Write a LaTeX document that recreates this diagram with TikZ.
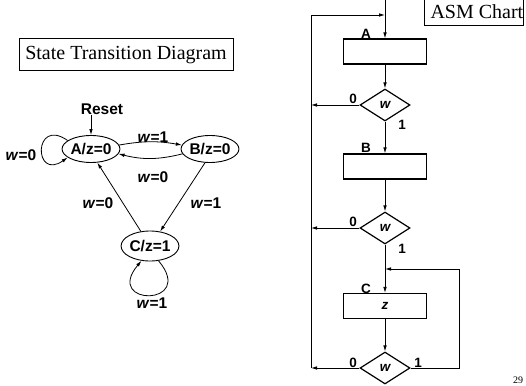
\documentclass[tikz,border=0pt]{standalone}
\usepackage{fontspec}
\setmainfont{Liberation Serif}
\setsansfont{Liberation Sans}
\usetikzlibrary{arrows.meta,shapes.geometric}

\begin{document}
\begin{tikzpicture}[x=1pt,y=1pt,
  >={Latex[length=6pt,width=3.6pt]},
  conn/.style={line width=0.8pt},
  title/.style={draw, line width=1pt, inner sep=0pt, font=\fontsize{20}{20}\selectfont},
  state/.style={draw, ellipse, line width=0.9pt, minimum width=56pt, minimum height=27pt, inner sep=0pt, font=\sffamily\bfseries\fontsize{15.5}{15.5}\selectfont},
  lbl/.style={inner sep=0pt, font=\sffamily\bfseries\fontsize{15.5}{15.5}\selectfont},
  asmbox/.style={draw, line width=1.2pt, minimum width=83pt, minimum height=25pt, inner sep=0pt, font=\sffamily\bfseries\itshape\fontsize{13.5}{13.5}\selectfont},
  cond/.style={draw, diamond, line width=1.2pt, minimum width=50pt, minimum height=32pt, inner sep=0pt, font=\sffamily\bfseries\itshape\fontsize{13.5}{13.5}\selectfont},
  asmtxt/.style={inner sep=0pt, font=\sffamily\bfseries\fontsize{13.5}{13.5}\selectfont}
]
\useasboundingbox (0,0) rectangle (526,-385);
\clip (0,0) rectangle (526,-385);

% === STATE TRANSITION DIAGRAM ===
\node[title, minimum width=214pt, minimum height=32pt] (stdtitle) at (126,-55) {State Transition Diagram};

\node[state] (A) at (91,-149) {A/z=0};
\node[state] (B) at (210,-149) {B/z=0};
\node[state, minimum height=30pt] (C) at (150,-246) {C/z=1};

\node[lbl] (reset) at (102,-109) {Reset};
\draw[->, conn] (reset.south -| A.north) -- (A.north);

% transitions
\draw[->, conn] (A.160) to[out=145, in=215, min distance=42pt] (A.200);
\draw[->, conn] (A.8) to[bend left=10] (B.172);
\draw[->, conn] (B.190) to[bend left=14] (A.350);
\draw[->, conn] (B.250) -- (C.55);
\draw[->, conn] (C.122) -- (A.295);
\draw[->, conn] (C.300) to[out=310, in=230, min distance=60pt] (C.240);

\node[lbl] (wAA) at (21,-155) {\textit{w}=0};
\node[lbl] (wAB) at (153,-137) {\textit{w}=1};
\node[lbl] (wBA) at (153,-177) {\textit{w}=0};
\node[lbl] (wCA) at (98,-203) {\textit{w}=0};
\node[lbl] (wBC) at (206,-203) {\textit{w}=1};
\node[lbl] (wCC) at (152,-303) {\textit{w}=1};

% === ASM CHART ===
\node[title, anchor=west, minimum height=28pt] (asmtitle) at (424,-12) {\hspace{6pt}ASM Chart\hspace{30pt}};

\coordinate (top) at (385,0);
\coordinate (tj) at (385,-15);
\coordinate (lft) at (311,0);
\coordinate (rgt) at (459,0);
\coordinate (cj) at (385,-269);

\node[asmbox] (boxA) at (385,-51.5) {};
\node[cond] (decA) at (385,-105) {\raisebox{-4pt}{w}};
\node[asmbox] (boxB) at (385,-166.5) {};
\node[cond] (decB) at (385,-228) {\raisebox{-4pt}{w}};
\node[asmbox] (boxC) at (385,-306) {\raisebox{-5pt}{z}};
\node[cond] (decC) at (385,-368) {\raisebox{-4pt}{w}};

\node[asmtxt] (labA) at (366,-34) {A};
\node[asmtxt] (labB) at (366,-148) {B};
\node[asmtxt] (labC) at (366,-289) {C};
\node[asmtxt] (zA) at (353,-99) {0};
\node[asmtxt] (oA) at (402,-125) {1};
\node[asmtxt] (zB) at (353,-222) {0};
\node[asmtxt] (oB) at (402,-249) {1};
\node[asmtxt] (zC) at (353,-363) {0};
\node[asmtxt] (oC) at (418,-363) {1};

% main flow
\draw[->, conn] (top) -- (boxA);
\draw[->, conn] (boxA) -- (decA);
\draw[->, conn] (decA) -- (boxB);
\draw[->, conn] (boxB) -- (decB);
\draw[->, conn] (decB) -- (boxC);
\draw[->, conn] (boxC) -- (decC);

% 0 exits back to A
\draw[->, conn] (decA.west) -- (decA.west -| lft);
\draw[->, conn] (decB.west) -- (decB.west -| lft);
\draw[->, conn] (decC.west) -- (decC.west -| lft);
\draw[->, conn] (decC.west -| lft) -- (lft |- tj) -- (tj);

% 1 exit back to C
\draw[->, conn] (decC.east) -- (decC.east -| rgt) -- (rgt |- cj) -- (cj);

\node[font=\fontsize{10}{10}\selectfont, inner sep=0pt] (page) at (518,-380) {29};

\end{tikzpicture}
\end{document}
